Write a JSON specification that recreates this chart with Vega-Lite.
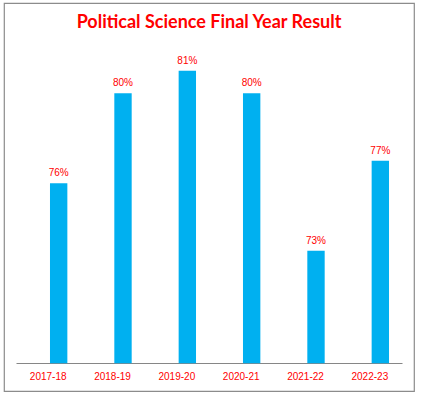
{
  "$schema": "https://vega.github.io/schema/vega-lite/v6.json",
  "autosize": "none",
  "width": 410,
  "height": 388,
  "padding": {"left": 4, "top": 3, "right": 7, "bottom": 4},
  "background": "white",
  "config": {
    "view": {"stroke": "#8c8c8c", "strokeWidth": 1.2}
  },
  "title": {
    "text": "Political Science Final Year Result",
    "color": "#FF0000",
    "font": "Lato",
    "fontSize": 18,
    "fontWeight": "bold",
    "anchor": "middle",
    "baseline": "alphabetic",
    "offset": -25,
    "dy": 18
  },
  "data": {
    "values": [
      {"year": "2017-18", "result": 0.76},
      {"year": "2018-19", "result": 0.80},
      {"year": "2019-20", "result": 0.81},
      {"year": "2020-21", "result": 0.80},
      {"year": "2021-22", "result": 0.73},
      {"year": "2022-23", "result": 0.77}
    ]
  },
  "encoding": {
    "x": {
      "field": "year",
      "type": "nominal",
      "sort": null,
      "scale": {"range": [12, 398], "paddingInner": 0, "paddingOuter": 0},
      "axis": {
        "title": null,
        "labelAngle": 0,
        "labelColor": "#FF0000",
        "labelFont": "Liberation Sans",
        "labelFontSize": 10,
        "labelPadding": 8,
        "ticks": false,
        "domainColor": "#868686",
        "domainWidth": 1,
        "offset": -28,
        "grid": false
      }
    },
    "y": {
      "field": "result",
      "type": "quantitative",
      "scale": {"domain": [0.68, 0.82], "range": [360.3, 45.3], "nice": false, "zero": false},
      "axis": null
    }
  },
  "layer": [
    {
      "mark": {"type": "bar", "color": "#00B0F0", "width": {"band": 0.27}, "xOffset": 10.5},
      "encoding": {
        "y2": {"datum": 0.68}
      }
    },
    {
      "mark": {
        "type": "text",
        "color": "#FF0000",
        "font": "Liberation Sans",
        "fontSize": 10,
        "baseline": "alphabetic",
        "dy": -7,
        "xOffset": 10.5
      },
      "encoding": {
        "text": {"field": "result", "type": "quantitative", "format": ".0%"}
      }
    }
  ]
}
